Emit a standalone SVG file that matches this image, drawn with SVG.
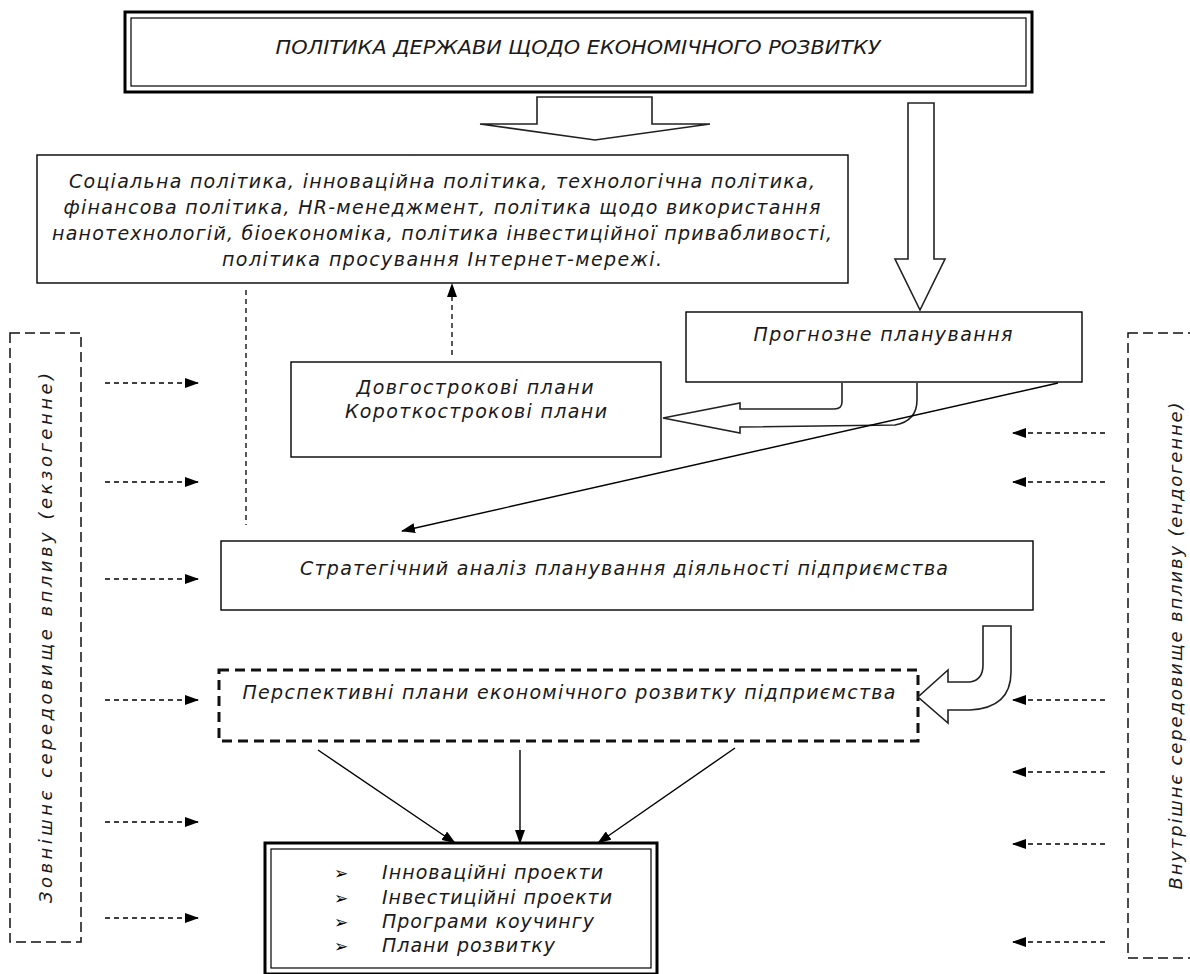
<svg xmlns="http://www.w3.org/2000/svg" width="1190" height="974" viewBox="0 0 1190 974">
<style>
.t{font-family:"DejaVu Sans","Liberation Sans",sans-serif;font-style:italic;font-size:19px;fill:#1a1a1a}
.s{font-size:18px}
.m{text-anchor:middle}
.b{font-style:normal;font-weight:bold;font-size:17px;fill:#000}
.box{fill:#fff;stroke:#000;stroke-width:1.4}
.thick{fill:none;stroke:#000;stroke-width:3}
.thin{fill:none;stroke:#000;stroke-width:1.2}
.hollow{fill:#fff;stroke:#222;stroke-width:1.6;stroke-linejoin:miter}
.dl{fill:none;stroke:#000;stroke-width:1.3;stroke-dasharray:5,4}
.db{fill:none;stroke:#111;stroke-width:1.5;stroke-dasharray:10,5}
.sl{fill:none;stroke:#000;stroke-width:1.4}
</style>
<defs>
<marker id="ah" markerWidth="14" markerHeight="10" refX="13" refY="5" orient="auto" markerUnits="userSpaceOnUse">
<path d="M0,0 L14,5 L0,10 Z" fill="#000"/>
</marker>
</defs>
<rect width="1190" height="974" fill="#fff"/>

<g id="side-left">
<rect x="10" y="333" width="71" height="609" class="db"/>
<text class="t s m" transform="translate(52,638) rotate(-90)" textLength="530" lengthAdjust="spacing">Зовнішнє середовище впливу (екзогенне)</text>
</g>
<g id="side-right">
<rect x="1128" y="333" width="90" height="625" class="db"/>
<text class="t s m" transform="translate(1182,646) rotate(-90)" textLength="487" lengthAdjust="spacing">Внутрішнє середовище впливу (ендогенне)</text>
</g>

<g id="node-title">
<rect x="125" y="12" width="907" height="80" fill="#fff" class="thick"/>
<rect x="131" y="18" width="895" height="68" class="thin"/>
<text class="t m" x="578" y="54" textLength="605" lengthAdjust="spacingAndGlyphs">ПОЛІТИКА ДЕРЖАВИ ЩОДО ЕКОНОМІЧНОГО РОЗВИТКУ</text>
</g>

<g id="node-policies">
<rect x="37" y="155" width="811" height="128" class="box"/>
<text class="t m" x="442" y="188" textLength="746" lengthAdjust="spacing">Соціальна політика, інноваційна політика, технологічна політика,</text>
<text class="t m" x="442" y="214" textLength="757" lengthAdjust="spacing">фінансова політика, HR-менеджмент, політика щодо використання</text>
<text class="t m" x="442" y="240" textLength="780" lengthAdjust="spacing">нанотехнологій, біоекономіка, політика інвестиційної привабливості,</text>
<text class="t m" x="442" y="266" textLength="440" lengthAdjust="spacing">політика просування Інтернет-мережі.</text>
</g>

<g id="node-forecast">
<rect x="686" y="312" width="396" height="70" class="box"/>
<text class="t m" x="883" y="341" textLength="259" lengthAdjust="spacing">Прогнозне планування</text>
</g>

<g id="node-plans">
<rect x="291" y="362" width="370" height="95" class="box"/>
<text class="t m" x="475" y="394" textLength="237" lengthAdjust="spacing">Довгострокові плани</text>
<text class="t m" x="476" y="418" textLength="262" lengthAdjust="spacing">Короткострокові плани</text>
</g>

<g id="node-strategic">
<rect x="221" y="541" width="812" height="69" class="box"/>
<text class="t m" x="624" y="575" textLength="648" lengthAdjust="spacing">Стратегічний аналіз планування діяльності підприємства</text>
</g>

<g id="node-perspective">
<rect x="219" y="670" width="699" height="71" fill="#fff" stroke="#111" stroke-width="3" stroke-dasharray="10,6"/>
<text class="t m" x="569" y="699" textLength="653" lengthAdjust="spacing">Перспективні плани економічного розвитку підприємства</text>
</g>

<g id="node-results">
<rect x="265" y="843" width="392" height="131" fill="#fff" class="thick"/>
<rect x="271" y="849" width="380" height="119" class="thin"/>
<text class="t b" x="334" y="879">➢</text>
<text class="t" x="382" y="879" textLength="221" lengthAdjust="spacing">Інноваційні проекти</text>
<text class="t b" x="334" y="904">➢</text>
<text class="t" x="382" y="904" textLength="230" lengthAdjust="spacing">Інвестиційні проекти</text>
<text class="t b" x="334" y="928">➢</text>
<text class="t" x="382" y="928" textLength="212" lengthAdjust="spacing">Програми коучингу</text>
<text class="t b" x="334" y="952">➢</text>
<text class="t" x="382" y="952" textLength="173" lengthAdjust="spacing">Плани розвитку</text>
</g>

<g id="connectors">
<polygon class="hollow" points="537,97 652,97 652,124 710,124 595,140 480,124 537,124"/>
<polygon class="hollow" points="908,103 934,103 934,259 945,259 920,310 895,259 908,259"/>
<path class="hollow" d="M842,383 L842,402 Q842,409 834,409 L740,409 L740,403 L663,418 L740,433 L740,427 L895,425 Q917,421 917,400 L917,383"/>
<path class="hollow" d="M983,626 L1011,626 L1011,672 Q1011,708 970,710 L948,710 L948,723 L918,697 L948,670 L948,682 L970,682 Q983,680 983,665 Z"/>
<line class="sl" x1="1058" y1="383" x2="402" y2="531" marker-end="url(#ah)"/>
<line class="dl" x1="246" y1="290" x2="246" y2="525"/>
<line class="dl" x1="452" y1="355" x2="452" y2="284" marker-end="url(#ah)"/>
<line class="sl" x1="318" y1="750" x2="455" y2="843" marker-end="url(#ah)"/>
<line class="sl" x1="520" y1="750" x2="520" y2="843" marker-end="url(#ah)"/>
<line class="sl" x1="735" y1="748" x2="598" y2="843" marker-end="url(#ah)"/>
<line class="dl" x1="105" y1="383" x2="198" y2="383" marker-end="url(#ah)"/>
<line class="dl" x1="105" y1="482" x2="198" y2="482" marker-end="url(#ah)"/>
<line class="dl" x1="105" y1="579" x2="198" y2="579" marker-end="url(#ah)"/>
<line class="dl" x1="105" y1="700" x2="198" y2="700" marker-end="url(#ah)"/>
<line class="dl" x1="105" y1="822" x2="198" y2="822" marker-end="url(#ah)"/>
<line class="dl" x1="105" y1="918" x2="198" y2="918" marker-end="url(#ah)"/>
<line class="dl" x1="1105" y1="433" x2="1013" y2="433" marker-end="url(#ah)"/>
<line class="dl" x1="1105" y1="482" x2="1013" y2="482" marker-end="url(#ah)"/>
<line class="dl" x1="1105" y1="700" x2="1013" y2="700" marker-end="url(#ah)"/>
<line class="dl" x1="1105" y1="772" x2="1013" y2="772" marker-end="url(#ah)"/>
<line class="dl" x1="1105" y1="844" x2="1013" y2="844" marker-end="url(#ah)"/>
<line class="dl" x1="1105" y1="942" x2="1013" y2="942" marker-end="url(#ah)"/>
</g>
</svg>
